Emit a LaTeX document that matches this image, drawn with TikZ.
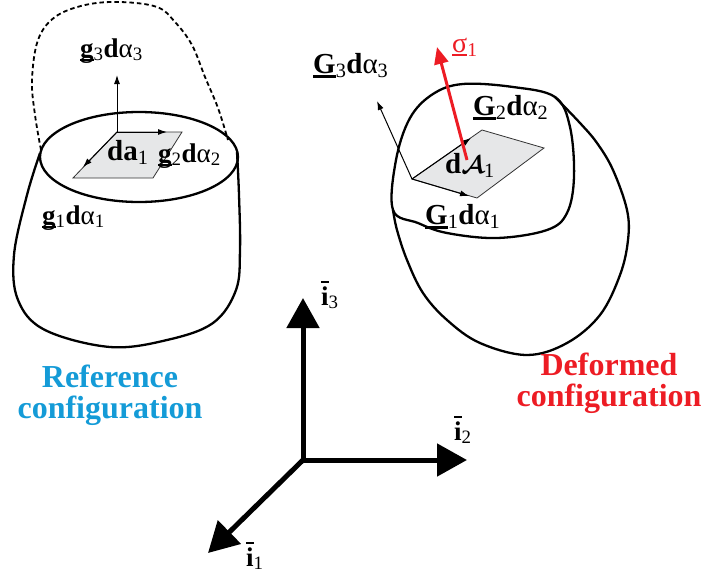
\documentclass[tikz,border=0pt]{standalone}
\usepackage{fontspec}
\setmainfont{Liberation Serif}
\usetikzlibrary{arrows.meta}
\definecolor{refblue}{RGB}{20,155,215}
\definecolor{defred}{RGB}{237,28,36}
\definecolor{patchgray}{RGB}{230,231,232}
% underlined vector symbol
\newcommand\uvec[1]{\setbox0\hbox{#1}\rlap{\rule[-0.16em]{\wd0}{0.09em}}\box0}
% barred unit vector
\newcommand\ibar{\setbox0\hbox{\textbf{i}}\rlap{\rule[0.82em]{\wd0}{0.08em}}\box0}
\begin{document}
\begin{tikzpicture}[x=1pt,y=-1pt,
  outline/.style={line width=2.3pt, line join=round},
  thin arrow/.style={line width=1pt, -{Latex[length=9pt,width=6pt]}},
  patch/.style={fill=patchgray, draw=black!80, line width=0.8pt},
  axis/.style={line width=5pt, -{Triangle[length=30pt,width=32pt]}},
  sym/.style={inner sep=0pt, anchor=base west, font=\fontsize{27}{30}\selectfont},
  bigsym/.style={inner sep=0pt, anchor=base west, font=\fontsize{29}{32}\selectfont},
  caption/.style={inner sep=0pt, align=center, font=\fontsize{32}{31}\selectfont\bfseries}]
\useasboundingbox (0,0) rectangle (705,579);

% ---------- reference configuration ----------
\draw[outline, dashed, dash pattern=on 4.5pt off 3pt, line width=1.8pt]
  plot[smooth, tension=0.6] coordinates {(41,150) (35,115) (32,80) (38,40) (55,17) (85,5) (120,2) (157,7) (175,22) (192,45) (205,77) (218,108) (228,140)};
\draw[outline] plot[smooth, tension=0.6] coordinates {(40,153) (27,195) (14,255) (18,300) (45,330) (110,347) (167,340) (213,323) (236,290) (240,250) (239,195) (237,152)};
\draw[outline] (139,157) ellipse [x radius=99, y radius=45];

\coordinate (o1) at (117,132);
\coordinate (p1b) at (182,132);
\coordinate (p1c) at (153,178);
\coordinate (p1d) at (73,178);
\coordinate (g3tip) at (117,75);
\coordinate (g2tip) at (167,132);
\coordinate (g1tip) at (83,167);
\draw[patch] (o1) -- (p1b) -- (p1c) -- (p1d) -- cycle;
\draw[thin arrow] (o1) -- (g3tip);
\draw[thin arrow] (o1) -- (g2tip);
\draw[thin arrow] (o1) -- (g1tip);

\node[sym] (lg3) at (80,57) {\uvec{\textbf{g}}\textsubscript{3}\textbf{d}α\textsubscript{3}};
\node[bigsym] (lda) at (107,160) {\textbf{da}\textsubscript{1}};
\node[sym] (lg2) at (158,162) {\uvec{\textbf{g}}\textsubscript{2}\textbf{d}α\textsubscript{2}};
\node[sym] (lg1) at (42,224) {\uvec{\textbf{g}}\textsubscript{1}\textbf{d}α\textsubscript{1}};

\node[caption, text=refblue] (refcap) at (110,395) {Reference\\configuration};

% ---------- deformed configuration ----------
\draw[outline] plot[smooth cycle, tension=0.6] coordinates {(393,210) (396,160) (410,118) (433,94) (463,84) (513,87) (555,97) (570,127) (574,177) (567,213) (547,230) (497,238) (447,233) (418,223)};
\draw[outline] plot[smooth, tension=0.6] coordinates {(555,97) (580,123) (597,143) (613,170) (627,210) (628,240) (620,275) (600,315) (567,343) (527,355) (480,343) (447,320) (423,293) (407,260) (397,230) (393,210)};

\coordinate (o2) at (412,179);
\coordinate (p2b) at (482,130);
\coordinate (p2c) at (544,148);
\coordinate (p2d) at (477,198);
\coordinate (G3tip) at (377,101);
\coordinate (G2tip) at (471,138);
\coordinate (G1tip) at (469,196);
\draw[patch] (o2) -- (p2b) -- (p2c) -- (p2d) -- cycle;
\draw[thin arrow] (o2) -- (G3tip);
\draw[thin arrow] (o2) -- (G2tip);
\draw[thin arrow] (o2) -- (G1tip);

\node[bigsym] (lG3) at (313,73) {\uvec{\textbf{G}}\textsubscript{3}\textbf{d}α\textsubscript{3}};
\node[bigsym] (lG2) at (473,115) {\uvec{\textbf{G}}\textsubscript{2}\textbf{d}α\textsubscript{2}};
\node[bigsym] (lG1) at (425,224) {\uvec{\textbf{G}}\textsubscript{1}\textbf{d}α\textsubscript{1}};
\node[bigsym] (ldA) at (445,173) {\textbf{d}{\boldmath$\mathcal{A}$}\textsubscript{1}};

\coordinate (sbase) at (467,160);
\coordinate (stip) at (437,47);
\draw[defred, line width=3pt, -{Triangle[length=17pt,width=14pt]}] (sbase) -- (stip);
\node[sym, text=defred, font=\fontsize{28}{30}\selectfont] (lsig) at (452,52) {\color{defred}\uvec{σ}\textsubscript{1}};

\node[caption, text=defred] (defcap) at (609,383) {Deformed\\configuration};

% ---------- global axes ----------
\coordinate (O) at (303,460);
\coordinate (e3) at (303,298);
\coordinate (e2) at (467,460);
\coordinate (e1) at (208,553);
\draw[axis] (O) -- (e3);
\draw[axis] (O) -- (e2);
\draw[axis] (O) -- (e1);
\node[sym] (li3) at (321,305) {\ibar\textsubscript{3}};
\node[sym] (li2) at (454,440) {\ibar\textsubscript{2}};
\node[sym] (li1) at (246,566) {\ibar\textsubscript{1}};
\end{tikzpicture}
\end{document}
